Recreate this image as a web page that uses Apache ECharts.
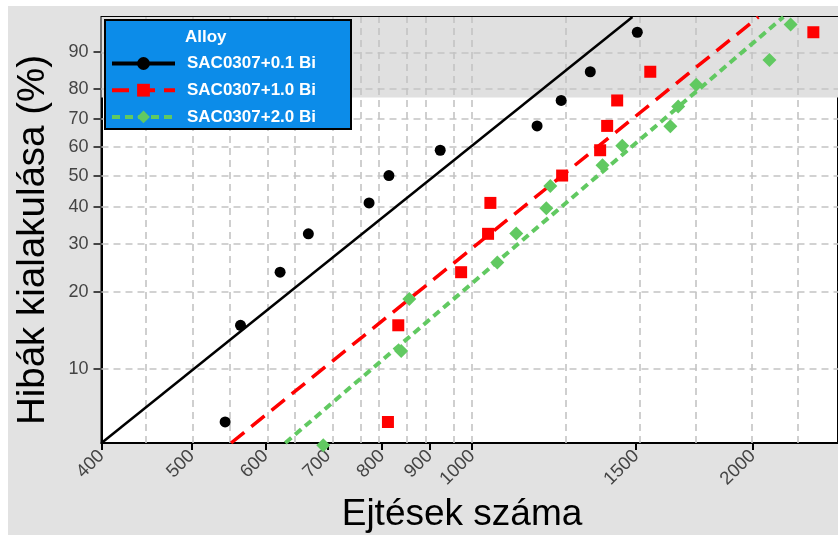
<!DOCTYPE html>
<html>
<head>
<meta charset="utf-8">
<script src="https://cdn.jsdelivr.net/npm/echarts@6/dist/echarts.min.js"></script>
<style>
  html, body { margin: 0; padding: 0; background: #ffffff; }
  #wrap { position: relative; width: 838px; height: 535px; overflow: hidden; }
  #bg { position: absolute; left: 8px; top: 6px; right: 0; bottom: 0; background: #e2e2e2; }
  #chart { position: absolute; left: 0; top: 0; width: 838px; height: 535px; }
</style>
</head>
<body>
<div id="wrap"><div id="bg"></div><div id="chart"></div></div>
<script>
// ---- data ----
const SERIES_NAMES = ['SAC0307+0.1 Bi', 'SAC0307+1.0 Bi', 'SAC0307+2.0 Bi'];
// cycles to failure
const BLACK_N = [543, 564, 622, 667, 775, 814, 924, 1174, 1246, 1339, 1504];
const RED_N   = [812, 833, 973, 1040, 1046, 1249, 1372, 1396, 1431, 1553, 2324];
const GREEN_N = [692, 839, 856, 1064, 1115, 1201, 1213, 1380, 1449, 1632, 1664, 1740, 2085, 2197];
// unreliability (%) read for each point
const BLACK_F = [6.1, 14.9, 23.7, 32.5, 41.2, 50.0, 58.8, 67.5, 76.3, 85.1, 93.9];
const RED_F   = [6.1, 14.9, 23.7, 32.5, 41.2, 50.0, 58.8, 67.5, 76.3, 85.1, 93.9];
const GREEN_F = [4.9, 11.8, 18.8, 25.7, 32.6, 39.6, 46.5, 53.5, 60.4, 67.4, 74.3, 81.3, 88.2, 95.1];
// fitted lines: two points each [N, F%]
const BLACK_FIT = [[400, 5.0], [1486, 96.1]];
const RED_FIT   = [[551, 5.0], [2029, 96.1]];
const GREEN_FIT = [[630, 5.0], [2158, 96.1]];
// axes
const X_TICKS = [400, 500, 600, 700, 800, 900, 1000, 1500, 2000];
const X_GRID  = [450, 500, 550, 600, 650, 700, 750, 800, 850, 900, 950, 1000, 1250, 1500, 1750, 2000, 2250];
const Y_TICKS = [10, 20, 30, 40, 50, 60, 70, 80, 90];
const X_RANGE = [400, 2470];
const Y_RANGE = [5.0, 96.1];
const BAND_FROM = 77.3;

// ---- scales (Weibull paper) ----
const lg = v => Math.log10(v);
const wb = p => Math.log(-Math.log(1 - p / 100));
const fromLg = v => Math.round(Math.pow(10, v));
const fromWb = v => Math.round((1 - Math.exp(-Math.exp(v))) * 100);
const pts = (ns, fs) => ns.map((n, i) => [lg(n), wb(fs[i])]);
const fit = arr => arr.map(d => [lg(d[0]), wb(d[1])]);

const FONT = 'Liberation Sans, Arial, sans-serif';
const COLORS = ['#000000', '#ff0000', '#61c961'];

const chart = echarts.init(document.getElementById('chart'), null, { renderer: 'canvas' });

const option = {
  animation: false,
  backgroundColor: 'transparent',
  grid: {
    left: 101.5, top: 17, right: 0, bottom: 92,
    show: true, backgroundColor: '#ffffff', borderColor: '#000000', borderWidth: 2
  },
  xAxis: {
    type: 'value', min: lg(X_RANGE[0]), max: lg(X_RANGE[1]),
    axisLine: { show: true, onZero: false, lineStyle: { color: '#000', width: 2 } },
    axisTick: { show: true, inside: false, length: 7, lineStyle: { color: '#000', width: 2 },
      customValues: X_TICKS.map(lg) },
    axisLabel: { customValues: X_TICKS.map(lg), formatter: v => String(fromLg(v)),
      rotate: 45, margin: 10, color: '#444444', fontSize: 18.5, fontFamily: FONT },
    splitLine: { show: false }
  },
  yAxis: {
    type: 'value', min: wb(Y_RANGE[0]), max: wb(Y_RANGE[1]),
    axisLine: { show: true, onZero: false, lineStyle: { color: '#000', width: 2 } },
    axisTick: { show: true, inside: false, length: 8, lineStyle: { color: '#444', width: 2 },
      customValues: Y_TICKS.map(wb) },
    axisLabel: { customValues: Y_TICKS.map(wb), formatter: v => String(fromWb(v)),
      margin: 13, color: '#444444', fontSize: 18, fontFamily: FONT },
    splitLine: { show: false }
  },
  legend: {
    data: SERIES_NAMES,
    orient: 'vertical', left: 110, top: 55, padding: 0,
    itemWidth: 63, itemHeight: 16, itemGap: 9.7,
    selectedMode: false, z: 10,
    lineStyle: { width: 4 },
    textStyle: { color: '#ffffff', fontSize: 17, fontWeight: 'bold', fontFamily: FONT, padding: [0, 0, 0, 7] }
  },
  graphic: [
    { type: 'rect', z: 8, shape: { x: 105, y: 20, width: 246, height: 109 },
      style: { fill: '#0c8ce9', stroke: '#000000', lineWidth: 2 } },
    { type: 'text', z: 9, x: 185, y: 37,
      style: { text: 'Alloy', fill: '#ffffff', fontSize: 17, fontWeight: 'bold', fontFamily: FONT, align: 'left', verticalAlign: 'middle' } },
    { type: 'text', x: 33, y: 240, rotation: Math.PI / 2,
      style: { text: 'Hibák kialakulása (%)', fill: '#000000', fontSize: 38.5, fontFamily: FONT, align: 'center', verticalAlign: 'middle' } },
    { type: 'text', x: 462, y: 515,
      style: { text: 'Ejtések száma', fill: '#000000', fontSize: 37, fontFamily: FONT, align: 'center', verticalAlign: 'middle' } }
  ],
  series: [
    { name: SERIES_NAMES[0], type: 'line', data: fit(BLACK_FIT), symbol: 'circle', showSymbol: false, z: 5,
      itemStyle: { color: COLORS[0] }, lineStyle: { color: COLORS[0], width: 2.5 } },
    { name: SERIES_NAMES[1], type: 'line', data: fit(RED_FIT), symbol: 'rect', showSymbol: false, z: 5,
      itemStyle: { color: COLORS[1] }, lineStyle: { color: COLORS[1], width: 3.5, type: [17, 9] } },
    { name: SERIES_NAMES[2], type: 'line', data: fit(GREEN_FIT), symbol: 'diamond', showSymbol: false, z: 5,
      itemStyle: { color: COLORS[2] }, lineStyle: { color: COLORS[2], width: 4, type: [8, 5] } },
    { name: 'band', type: 'line', data: [], z: 1, silent: true,
      markArea: { silent: true, itemStyle: { color: '#e0e0e0' },
        data: [[{ yAxis: wb(BAND_FROM) }, { yAxis: wb(Y_RANGE[1]) }]] } },
    { name: 'grid', type: 'line', data: [], z: 2, silent: true,
      markLine: { silent: true, symbol: ['none', 'none'], label: { show: false }, animation: false,
        lineStyle: { color: '#c4c4c4', type: [7, 5], width: 1.6 },
        data: [...X_GRID.map(v => ({ xAxis: lg(v) })), ...Y_TICKS.map(p => ({ yAxis: wb(p) }))] } },
    { name: SERIES_NAMES[0], type: 'scatter', data: pts(BLACK_N, BLACK_F), symbol: 'circle', symbolSize: 11,
      itemStyle: { color: COLORS[0], opacity: 1 }, z: 6, clip: false },
    { name: SERIES_NAMES[1], type: 'scatter', data: pts(RED_N, RED_F), symbol: 'rect', symbolSize: 12,
      itemStyle: { color: COLORS[1], opacity: 1 }, z: 6, clip: false },
    { name: SERIES_NAMES[2], type: 'scatter', data: pts(GREEN_N, GREEN_F), symbol: 'diamond', symbolSize: 14,
      itemStyle: { color: COLORS[2], opacity: 1 }, z: 6, clip: false }
  ]
};
chart.setOption(option);
</script>
</body>
</html>
